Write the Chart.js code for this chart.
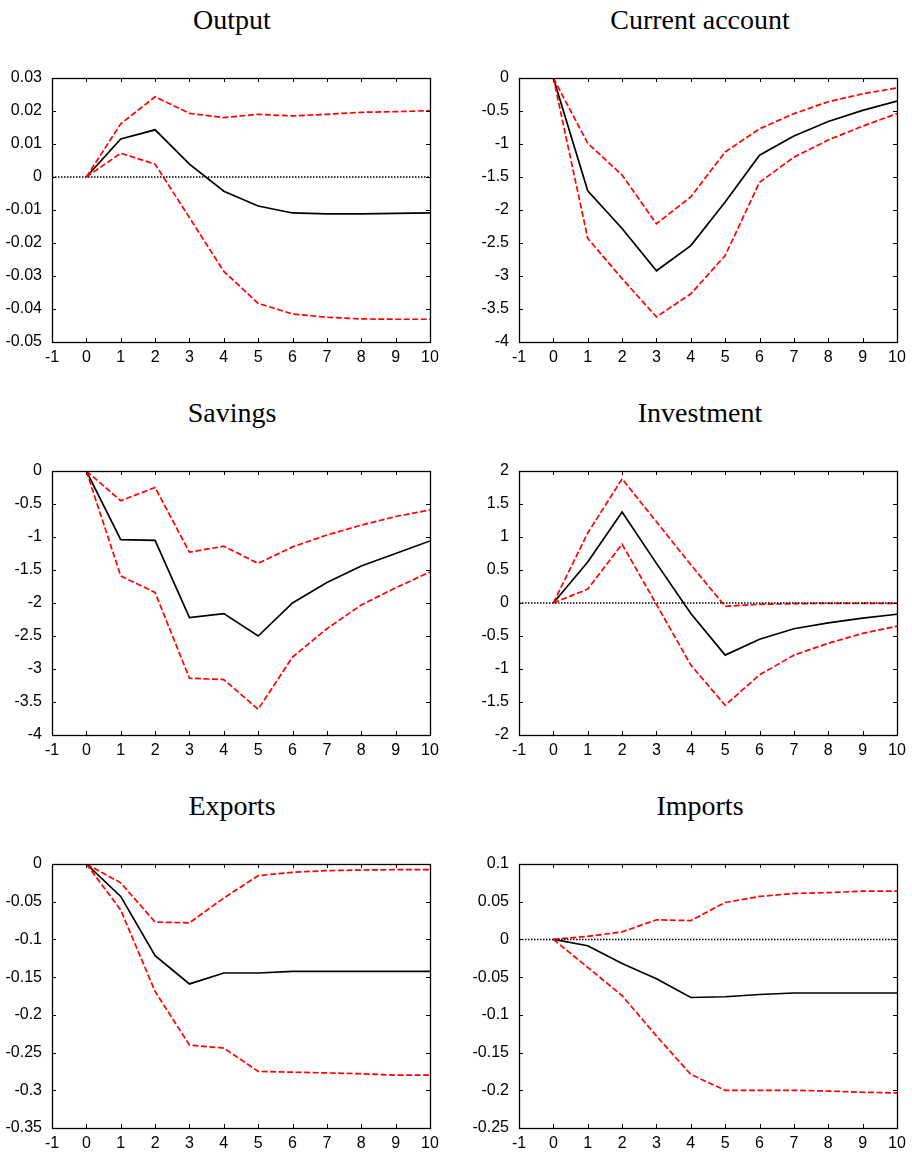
<!DOCTYPE html>
<html>
<head>
<meta charset="utf-8">
<script src="https://cdn.jsdelivr.net/npm/chart.js@4.4.1/dist/chart.umd.min.js"></script>
<style>
  html, body { margin:0; padding:0; background:#fff; }
  body { width:912px; height:1154px; position:relative; overflow:hidden; }
  canvas { position:absolute; }
  .ttl { position:absolute; font-family:"Liberation Serif","DejaVu Serif",serif; font-size:28px; line-height:28px; color:#000; white-space:nowrap; transform:translateX(-50%); }
</style>
</head>
<body>
<div class="ttl" style="left:232px; top:6px;">Output</div>
<div class="ttl" style="left:700px; top:6px;">Current account</div>
<div class="ttl" style="left:232px; top:399px;">Savings</div>
<div class="ttl" style="left:700px; top:399px;">Investment</div>
<div class="ttl" style="left:232px; top:792px;">Exports</div>
<div class="ttl" style="left:700px; top:792px;">Imports</div>

<canvas id="c1" width="450" height="314" style="left:0px; top:58px;"></canvas>
<canvas id="c2" width="450" height="314" style="left:467px; top:58px;"></canvas>
<canvas id="c3" width="450" height="314" style="left:0px; top:451px;"></canvas>
<canvas id="c4" width="450" height="314" style="left:467px; top:451px;"></canvas>
<canvas id="c5" width="450" height="314" style="left:0px; top:844px;"></canvas>
<canvas id="c6" width="450" height="314" style="left:467px; top:844px;"></canvas>

<script>
// ---- data ----
const horizon = [0, 1, 2, 3, 4, 5, 6, 7, 8, 9, 10];
const xTicks = [-1, 0, 1, 2, 3, 4, 5, 6, 7, 8, 9, 10];

const outputMed = [0, 0.0115, 0.0143, 0.0039, -0.0043, -0.0088, -0.0109, -0.0112, -0.0112, -0.0110, -0.0109];
const outputHi  = [0, 0.0161, 0.0243, 0.0193, 0.0180, 0.0190, 0.0185, 0.0190, 0.0196, 0.0198, 0.0201];
const outputLo  = [0, 0.0072, 0.0039, -0.0123, -0.0286, -0.0383, -0.0415, -0.0425, -0.0430, -0.0431, -0.0431];
const outputTicks = [-0.05, -0.04, -0.03, -0.02, -0.01, 0, 0.01, 0.02, 0.03];

const caMed = [0, -1.71, -2.28, -2.92, -2.54, -1.88, -1.17, -0.88, -0.66, -0.49, -0.35];
const caHi  = [0, -0.99, -1.47, -2.21, -1.80, -1.12, -0.77, -0.54, -0.36, -0.24, -0.15];
const caLo  = [0, -2.43, -3.04, -3.62, -3.27, -2.69, -1.58, -1.20, -0.94, -0.73, -0.54];
const caTicks = [-4, -3.5, -3, -2.5, -2, -1.5, -1, -0.5, 0];

const savMed = [0, -1.04, -1.05, -2.22, -2.16, -2.50, -2.00, -1.69, -1.44, -1.25, -1.06];
const savHi  = [0, -0.45, -0.25, -1.23, -1.14, -1.40, -1.15, -0.97, -0.82, -0.69, -0.59];
const savLo  = [0, -1.59, -1.84, -3.14, -3.16, -3.61, -2.82, -2.39, -2.03, -1.77, -1.53];
const savTicks = [-4, -3.5, -3, -2.5, -2, -1.5, -1, -0.5, 0];

const invMed = [0, 0.62, 1.38, 0.60, -0.16, -0.79, -0.55, -0.39, -0.30, -0.23, -0.17];
const invHi  = [0, 1.06, 1.88, 1.23, 0.58, -0.05, -0.02, -0.01, -0.005, -0.005, -0.005];
const invLo  = [0, 0.21, 0.89, -0.02, -0.94, -1.55, -1.09, -0.79, -0.61, -0.46, -0.35];
const invTicks = [-2, -1.5, -1, -0.5, 0, 0.5, 1, 1.5, 2];

const expMed = [0, -0.043, -0.1215, -0.159, -0.1445, -0.1445, -0.1423, -0.1423, -0.1423, -0.1423, -0.1423];
const expHi  = [0, -0.025, -0.077, -0.078, -0.045, -0.0155, -0.011, -0.0088, -0.008, -0.0075, -0.0075];
const expLo  = [0, -0.061, -0.169, -0.240, -0.244, -0.275, -0.276, -0.277, -0.278, -0.280, -0.280];
const expTicks = [-0.35, -0.3, -0.25, -0.2, -0.15, -0.1, -0.05, 0];

const impMed = [0, -0.0083, -0.032, -0.052, -0.077, -0.076, -0.073, -0.071, -0.071, -0.071, -0.071];
const impHi  = [0, 0.004, 0.010, 0.026, 0.025, 0.049, 0.057, 0.061, 0.062, 0.064, 0.064];
const impLo  = [0, -0.037, -0.0745, -0.128, -0.179, -0.200, -0.200, -0.200, -0.201, -0.2026, -0.2035];
const impTicks = [-0.25, -0.2, -0.15, -0.1, -0.05, 0, 0.05, 0.1];

// ---- drawing ----
const frame = {
  id: 'frame',
  afterDatasetsDraw(chart) {
    const { ctx, chartArea: a, scales: { x, y } } = chart;
    ctx.save();
    ctx.strokeStyle = '#000';
    ctx.lineWidth = 1;
    ctx.beginPath();
    const L = 4;
    x.ticks.forEach(t => {
      const px = Math.round(x.getPixelForValue(t.value)) + 0.5;
      ctx.moveTo(px, a.bottom); ctx.lineTo(px, a.bottom - L);
      ctx.moveTo(px, a.top); ctx.lineTo(px, a.top + L);
    });
    y.ticks.forEach(t => {
      const py = Math.round(y.getPixelForValue(t.value)) + 0.5;
      ctx.moveTo(a.left, py); ctx.lineTo(a.left + L, py);
      ctx.moveTo(a.right, py); ctx.lineTo(a.right - L, py);
    });
    ctx.stroke();
    ctx.lineWidth = 1.3;
    ctx.strokeRect(Math.round(a.left) + 0.5, Math.round(a.top) + 0.5,
                   Math.round(a.right - a.left), Math.round(a.bottom - a.top));
    ctx.restore();
  }
};

function fmt(v) {
  const n = parseFloat(Number(v).toFixed(4));
  return (Object.is(n, -0) ? 0 : n).toString();
}

function pts(arr) { return horizon.map((h, i) => ({ x: h, y: arr[i] })); }

function makeChart(id, med, hi, lo, yTicks) {
  const tickFont = { family: '"Liberation Sans", Arial, sans-serif', size: 16 };
  new Chart(document.getElementById(id), {
    type: 'line',
    data: {
      datasets: [
        { data: [{ x: xTicks[0], y: 0 }, { x: xTicks[xTicks.length - 1], y: 0 }],
          borderColor: '#000', borderWidth: 1.4, borderDash: [1.5, 1.5], pointRadius: 0 },
        { data: pts(lo), borderColor: '#ff0000', borderWidth: 1.7, borderDash: [6, 2.5], pointRadius: 0 },
        { data: pts(hi), borderColor: '#ff0000', borderWidth: 1.7, borderDash: [6, 2.5], pointRadius: 0 },
        { data: pts(med), borderColor: '#000', borderWidth: 1.7, pointRadius: 0 }
      ]
    },
    options: {
      responsive: false,
      animation: false,
      events: [],
      layout: { padding: { top: 20, right: 20, left: 0, bottom: 0 } },
      plugins: { legend: { display: false }, tooltip: { enabled: false }, title: { display: false } },
      elements: { line: { tension: 0, borderCapStyle: 'butt' } },
      scales: {
        x: {
          type: 'linear',
          min: xTicks[0], max: xTicks[xTicks.length - 1],
          afterBuildTicks: s => { s.ticks = xTicks.map(v => ({ value: v })); },
          afterFit: s => { s.height = 30; },
          grid: { display: false, drawTicks: false },
          border: { display: false },
          ticks: { font: tickFont, color: '#000', padding: 6, maxRotation: 0, autoSkip: false, callback: v => fmt(v) }
        },
        y: {
          type: 'linear',
          min: yTicks[0], max: yTicks[yTicks.length - 1],
          afterBuildTicks: s => { s.ticks = yTicks.map(v => ({ value: v })); },
          afterFit: s => { s.width = 52; },
          grid: { display: false, drawTicks: false },
          border: { display: false },
          ticks: { font: tickFont, color: '#000', padding: 10, autoSkip: false, callback: v => fmt(v) }
        }
      }
    },
    plugins: [frame]
  });
}

makeChart('c1', outputMed, outputHi, outputLo, outputTicks);
makeChart('c2', caMed, caHi, caLo, caTicks);
makeChart('c3', savMed, savHi, savLo, savTicks);
makeChart('c4', invMed, invHi, invLo, invTicks);
makeChart('c5', expMed, expHi, expLo, expTicks);
makeChart('c6', impMed, impHi, impLo, impTicks);
</script>
</body>
</html>
